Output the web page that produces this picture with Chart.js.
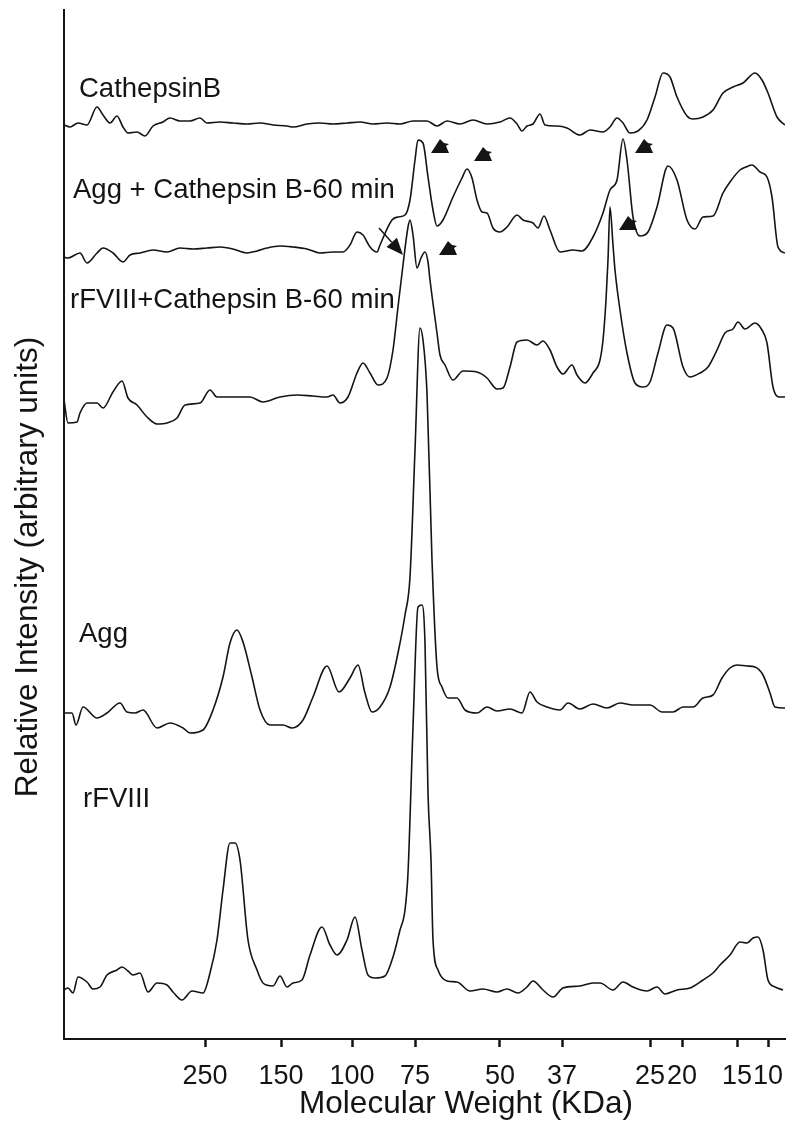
<!DOCTYPE html>
<html>
<head>
<meta charset="utf-8">
<script src="https://cdn.jsdelivr.net/npm/chart.js@4/dist/chart.umd.min.js"></script>
<style>
html,body{margin:0;padding:0;background:#fff;}
canvas{display:block;}
</style>
</head>
<body>
<canvas id="c" width="800" height="1138"></canvas>
<script>
// Migration distance (arbitrary units) vs relative intensity (arbitrary units, traces stacked)
const tickPositions = [141, 217, 288, 351, 436, 498, 586, 618, 673, 704];
const tickLabels = ['250','150','100','75','50','37','25','20','15','10'];

const traceNames = ['CathepsinB', 'Agg + Cathepsin B-60 min', 'rFVIII+Cathepsin B-60 min', 'Agg', 'rFVIII'];
const labelAnchors = [[15, 942], [9, 841], [6, 731], [15, 397], [19, 232]];

const cathepsinB = [[0,914],[6,912],[14,916],[23,914],[33,932],[39,924],[46,916],[53,923],[59,912],[64,906],[73,907],[81,903],[89,913],[99,917],[106,921],[116,918],[126,918],[136,921],[143,916],[156,917],[169,916],[183,915],[196,916],[209,914],[223,913],[229,912],[243,915],[256,916],[269,915],[283,916],[296,917],[309,915],[323,916],[336,915],[349,918],[363,918],[373,913],[383,918],[396,915],[409,919],[423,915],[436,917],[446,921],[453,915],[458,908],[463,913],[469,915],[476,925],[481,914],[493,913],[503,911],[516,904],[526,909],[539,907],[546,912],[553,921],[559,916],[566,906],[574,908],[583,919],[591,942],[599,966],[606,962],[613,942],[623,923],[629,920],[639,922],[649,929],[659,946],[669,952],[679,956],[691,966],[698,959],[704,946],[713,922],[721,914]];

const aggCathepsin60 = [[0,782],[4,781],[16,786],[23,776],[33,786],[39,791],[49,786],[59,777],[66,784],[76,786],[89,789],[103,787],[116,791],[129,790],[143,791],[156,792],[169,790],[183,786],[193,788],[203,791],[216,793],[229,792],[243,790],[256,786],[269,787],[279,787],[286,794],[293,807],[299,804],[306,792],[313,787],[316,794],[328,819],[334,822],[341,824],[346,839],[351,879],[354,899],[359,896],[364,862],[369,829],[373,813],[379,819],[389,842],[398,861],[403,870],[408,861],[413,839],[418,827],[423,826],[429,811],[436,807],[443,812],[453,824],[459,819],[469,816],[474,811],[480,823],[486,809],[496,787],[509,789],[518,788],[529,802],[539,826],[546,849],[553,859],[559,900],[563,879],[569,822],[576,803],[584,807],[593,832],[604,873],[613,859],[623,819],[631,810],[639,822],[649,823],[659,846],[666,857],[676,869],[682,872],[688,874],[696,867],[703,862],[708,842],[714,792],[721,786]];

const rfviiiCathepsin60 = [[0,639],[4,616],[13,617],[16,626],[23,636],[33,636],[39,631],[49,647],[58,658],[64,641],[73,634],[83,622],[93,615],[103,616],[113,621],[121,634],[136,636],[146,649],[153,642],[169,642],[186,642],[199,637],[216,642],[233,644],[249,643],[263,642],[269,644],[276,636],[284,642],[293,666],[299,676],[306,666],[314,654],[323,661],[329,689],[334,732],[339,774],[344,812],[346,819],[349,804],[353,771],[357,781],[361,787],[364,777],[366,759],[373,706],[376,684],[381,674],[389,659],[399,668],[413,667],[423,661],[433,650],[439,651],[446,672],[453,697],[463,699],[473,694],[479,698],[486,689],[493,672],[499,665],[508,674],[513,664],[521,656],[529,666],[536,679],[539,699],[542,739],[544,779],[546,832],[549,794],[551,769],[556,729],[563,686],[571,656],[579,652],[586,657],[594,686],[603,714],[609,711],[619,672],[626,662],[636,666],[644,672],[653,689],[661,706],[669,710],[674,717],[681,710],[691,716],[698,709],[703,696],[709,652],[716,642],[721,642]];

const agg = [[0,326],[8,326],[12,314],[19,332],[33,321],[43,326],[56,336],[63,327],[71,326],[79,329],[93,311],[106,316],[119,311],[126,306],[139,309],[149,329],[159,362],[166,396],[173,409],[179,397],[188,362],[196,329],[206,314],[219,314],[228,311],[239,319],[249,342],[263,373],[275,347],[286,361],[294,374],[301,346],[308,327],[316,332],[326,352],[334,386],[341,424],[346,462],[351,589],[356,711],[359,699],[363,646],[368,479],[373,372],[378,352],[384,341],[393,341],[401,329],[413,326],[423,332],[433,328],[446,330],[458,326],[466,347],[473,337],[483,332],[496,329],[504,336],[516,330],[529,335],[543,331],[556,336],[569,334],[586,334],[598,327],[609,327],[619,332],[629,332],[639,341],[649,344],[658,361],[666,371],[673,374],[683,373],[691,372],[699,364],[706,346],[711,332],[721,331]];

const rfviii = [[0,49],[4,51],[9,46],[14,62],[23,57],[29,50],[36,52],[43,64],[53,69],[58,72],[64,68],[69,64],[76,66],[84,47],[93,56],[103,54],[109,47],[118,39],[128,48],[139,46],[146,66],[153,99],[159,149],[166,196],[171,196],[176,179],[184,99],[193,69],[199,56],[209,53],[216,63],[223,52],[229,56],[238,59],[246,84],[258,112],[266,94],[273,84],[283,99],[291,122],[298,89],[304,64],[311,61],[321,63],[329,82],[336,109],[341,129],[344,166],[349,312],[354,432],[358,434],[361,396],[364,246],[367,179],[369,99],[374,69],[383,58],[393,57],[406,48],[419,50],[433,47],[443,50],[454,46],[463,52],[469,58],[479,49],[489,42],[499,51],[516,53],[529,56],[536,56],[549,49],[559,57],[569,52],[583,48],[593,52],[601,45],[613,49],[626,51],[639,59],[649,66],[656,74],[666,84],[676,97],[683,96],[689,101],[694,102],[699,89],[704,59],[711,52],[719,49]];

// Arrowhead annotation marks (apex positions, data units)
const arrowMarks = [[376,900],[419,892],[580,900],[564,823],[384,798]];
// Lined arrow: [start, tip]
const linedArrow = [[315,811],[339,784]];

const FONT = '"Liberation Sans", Arial, Helvetica, sans-serif';
const INK = '#141414';

const seriesList = [cathepsinB, aggCathepsin60, rfviiiCathepsin60, agg, rfviii];

const datasets = seriesList.map((s, i) => ({
  label: traceNames[i],
  data: s.map(p => ({x: p[0], y: p[1]})),
  borderColor: INK,
  borderWidth: 1.6,
  pointRadius: 0,
  cubicInterpolationMode: 'monotone',
  fill: false
}));

const annotate = {
  id: 'annotate',
  afterDatasetsDraw(chart) {
    const {ctx, scales: {x, y}} = chart;
    ctx.save();
    ctx.fillStyle = INK;
    ctx.font = '27.5px ' + FONT;
    ctx.textAlign = 'left';
    ctx.textBaseline = 'alphabetic';
    traceNames.forEach((t, i) => {
      ctx.fillText(t, x.getPixelForValue(labelAnchors[i][0]), y.getPixelForValue(labelAnchors[i][1]));
    });
    // arrowheads
    arrowMarks.forEach(m => {
      const ax = x.getPixelForValue(m[0]);
      const ay = y.getPixelForValue(m[1]);
      ctx.beginPath();
      ctx.moveTo(ax, ay);
      ctx.lineTo(ax + 4, ay + 4);
      ctx.lineTo(ax + 9, ay + 5);
      ctx.lineTo(ax + 6, ay + 7);
      ctx.lineTo(ax + 9, ay + 14);
      ctx.lineTo(ax - 9, ay + 14);
      ctx.closePath();
      ctx.fill();
    });
    // lined arrow
    const sx = x.getPixelForValue(linedArrow[0][0]), sy = y.getPixelForValue(linedArrow[0][1]);
    const tx = x.getPixelForValue(linedArrow[1][0]), ty = y.getPixelForValue(linedArrow[1][1]);
    const ang = Math.atan2(ty - sy, tx - sx);
    const hl = 17, hw = 7;
    const bx = tx - hl * Math.cos(ang), by = ty - hl * Math.sin(ang);
    ctx.strokeStyle = INK;
    ctx.lineWidth = 1.5;
    ctx.beginPath();
    ctx.moveTo(sx, sy);
    ctx.lineTo(bx, by);
    ctx.stroke();
    ctx.beginPath();
    ctx.moveTo(tx, ty);
    ctx.lineTo(bx + hw * Math.sin(ang), by - hw * Math.cos(ang));
    ctx.lineTo(bx - hw * Math.sin(ang), by + hw * Math.cos(ang));
    ctx.closePath();
    ctx.fill();
    // axis titles
    ctx.font = '31.5px ' + FONT;
    ctx.textAlign = 'center';
    ctx.textBaseline = 'alphabetic';
    ctx.fillText('Molecular Weight (KDa)', 466, 1113);
    ctx.save();
    ctx.translate(37, 567);
    ctx.rotate(-Math.PI / 2);
    ctx.fillText('Relative Intensity (arbitrary units)', 0, 0);
    ctx.restore();
    ctx.restore();
  }
};

new Chart(document.getElementById('c'), {
  type: 'line',
  data: { datasets },
  options: {
    responsive: false,
    animation: false,
    devicePixelRatio: 1,
    layout: { padding: { top: 10, right: 15, bottom: 0, left: 0 } },
    plugins: { legend: { display: false }, tooltip: { enabled: false } },
    scales: {
      x: {
        type: 'linear',
        min: 0,
        max: 721,
        afterBuildTicks(scale) { scale.ticks = tickPositions.map(v => ({ value: v })); },
        afterFit(scale) { scale.height = 99; },
        ticks: {
          autoSkip: false,
          maxRotation: 0,
          minRotation: 0,
          padding: 16,
          color: INK,
          font: { family: FONT, size: 27, lineHeight: 1 },
          callback: (v, i) => tickLabels[i]
        },
        grid: { display: true, drawOnChartArea: false, drawTicks: true, tickLength: 8, tickWidth: 2.5, tickColor: INK, color: INK },
        border: { display: true, color: INK, width: 2 },
        title: { display: false }
      },
      y: {
        type: 'linear',
        min: 0,
        max: 1029,
        afterFit(scale) { scale.width = 64; },
        ticks: { display: false },
        grid: { display: true, drawOnChartArea: false, drawTicks: false },
        border: { display: true, color: INK, width: 2 },
        title: { display: false }
      }
    }
  },
  plugins: [annotate]
});
</script>
</body>
</html>
